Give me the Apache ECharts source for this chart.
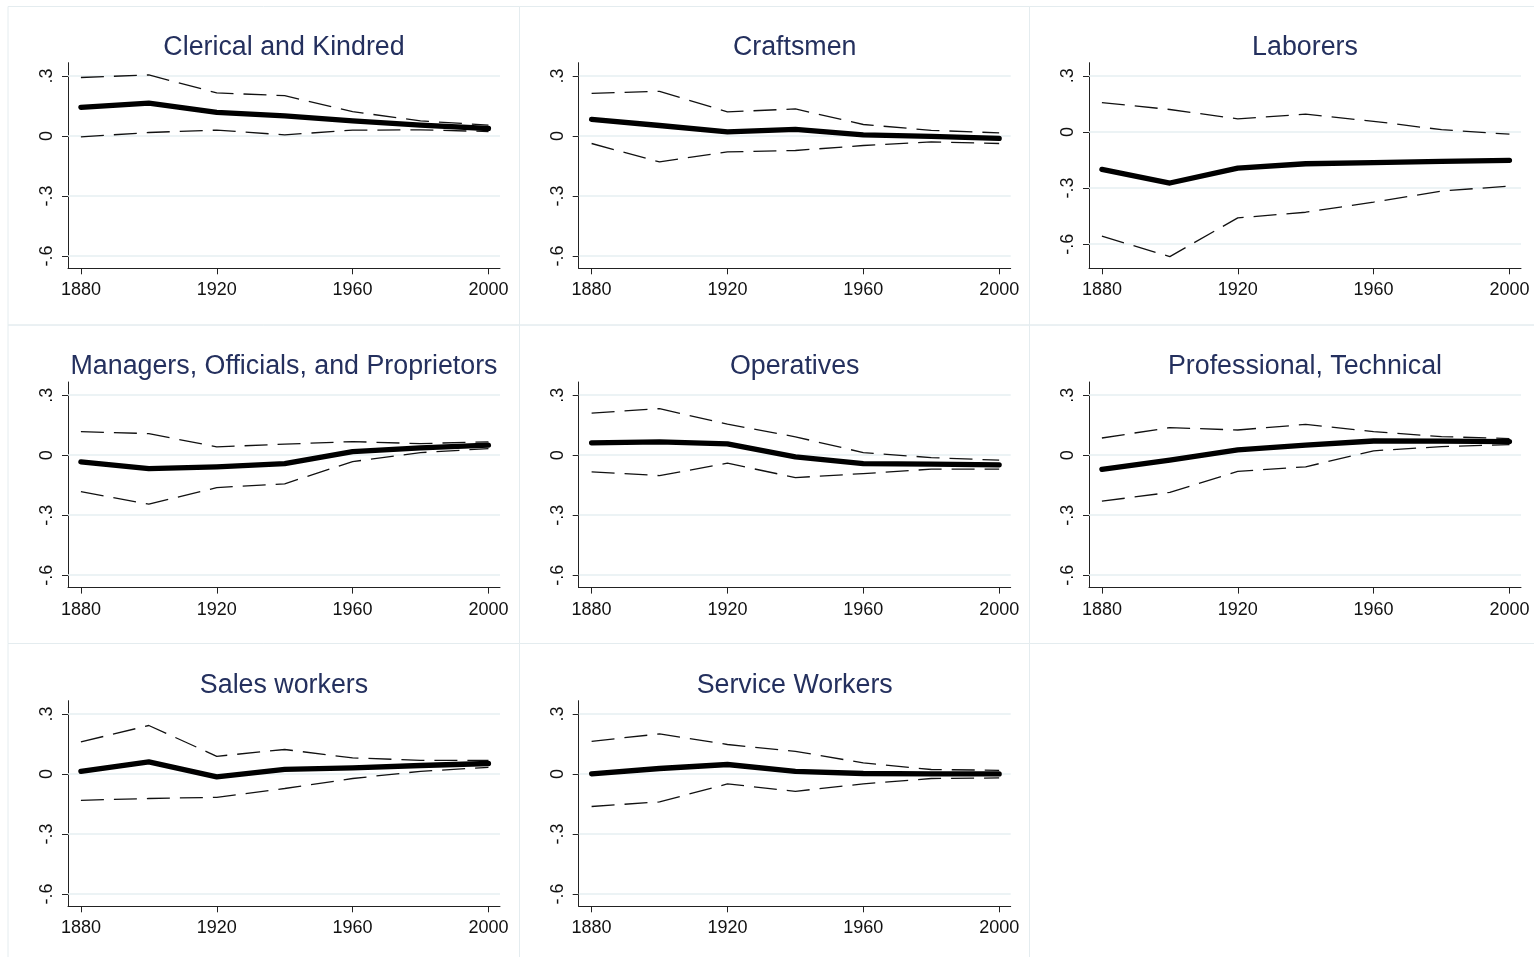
<!DOCTYPE html>
<html>
<head>
<meta charset="utf-8">
<script src="https://cdn.jsdelivr.net/npm/echarts@6/dist/echarts.min.js"></script>
<style>
  html, body { margin: 0; padding: 0; background: #ffffff; }
  #chart { width: 1534px; height: 957px; }
</style>
</head>
<body>
<div id="chart"></div>
<script>
// Census years shared by every panel
const years = [1880, 1900, 1920, 1940, 1960, 1980, 2000];

// Axis ticks
const xTickValues = [1880, 1920, 1960, 2000];
const yTickValues = [-0.6, -0.3, 0, 0.3];
const yTickLabels = ['-.6', '-.3', '0', '.3'];

// Panel titles (occupation groups)
const panelTitles = [
  'Clerical and Kindred', 'Craftsmen', 'Laborers',
  'Managers, Officials, and Proprietors', 'Operatives', 'Professional, Technical',
  'Sales workers', 'Service Workers'
];

// Point estimates and confidence bounds per occupation group
const clericalEst = [0.143, 0.164, 0.118, 0.100, 0.075, 0.054, 0.037];
const clericalHi  = [0.292, 0.305, 0.215, 0.201, 0.121, 0.075, 0.054];
const clericalLo  = [-0.005, 0.017, 0.029, 0.005, 0.029, 0.030, 0.022];

const craftEst = [0.083, 0.052, 0.020, 0.033, 0.005, -0.002, -0.012];
const craftHi  = [0.213, 0.223, 0.120, 0.135, 0.057, 0.028, 0.015];
const craftLo  = [-0.038, -0.130, -0.080, -0.073, -0.048, -0.030, -0.038];

const laborEst = [-0.200, -0.273, -0.193, -0.170, -0.164, -0.157, -0.152];
const laborHi  = [0.157, 0.120, 0.070, 0.095, 0.057, 0.012, -0.012];
const laborLo  = [-0.557, -0.666, -0.459, -0.429, -0.375, -0.316, -0.289];

const managerEst = [-0.033, -0.067, -0.058, -0.042, 0.018, 0.037, 0.050];
const managerHi  = [0.118, 0.108, 0.042, 0.055, 0.068, 0.058, 0.067];
const managerLo  = [-0.182, -0.245, -0.162, -0.143, -0.032, 0.013, 0.033];

const operEst = [0.062, 0.067, 0.057, -0.008, -0.042, -0.045, -0.048];
const operHi  = [0.210, 0.233, 0.155, 0.092, 0.013, -0.012, -0.025];
const operLo  = [-0.083, -0.102, -0.040, -0.112, -0.092, -0.070, -0.070];

const profEst = [-0.071, -0.025, 0.027, 0.050, 0.071, 0.070, 0.068];
const profHi  = [0.086, 0.138, 0.126, 0.154, 0.118, 0.093, 0.083];
const profLo  = [-0.230, -0.186, -0.081, -0.058, 0.022, 0.043, 0.053];

const salesEst = [0.013, 0.060, -0.015, 0.023, 0.030, 0.042, 0.052];
const salesHi  = [0.160, 0.242, 0.088, 0.122, 0.080, 0.068, 0.068];
const salesLo  = [-0.132, -0.123, -0.117, -0.073, -0.023, 0.013, 0.033];

const serviceEst = [0.000, 0.027, 0.047, 0.013, 0.002, 0.000, 0.000];
const serviceHi  = [0.163, 0.200, 0.147, 0.113, 0.055, 0.022, 0.018];
const serviceLo  = [-0.163, -0.140, -0.050, -0.087, -0.050, -0.023, -0.020];

const panelSeries = [
  [clericalEst, clericalHi, clericalLo],
  [craftEst, craftHi, craftLo],
  [laborEst, laborHi, laborLo],
  [managerEst, managerHi, managerLo],
  [operEst, operHi, operLo],
  [profEst, profHi, profLo],
  [salesEst, salesHi, salesLo],
  [serviceEst, serviceHi, serviceLo]
];

// Layout of the 3x3 panel grid (pixels)
const colLeft = [68, 578.7, 1089];
const rowTop = [62.7, 382, 700.7];
const plotW = 432;
const plotH = 205.6;
const boxLeft = [8, 519.5, 1029.5];
const boxTop = [6.5, 325, 643.5];
const boxW = [511.5, 510, 520];
const boxH = 318.5;

const FONT = '"Liberation Sans", Arial, Helvetica, sans-serif';
const TITLE_COLOR = '#24305e';

const toPairs = vals => years.map((y, i) => [y, vals[i]]);

const grids = [], xAxes = [], yAxes = [], series = [], titles = [], graphics = [];

panelTitles.forEach((name, p) => {
  const r = Math.floor(p / 3), c = p % 3;
  const yRange = p === 2 ? [-0.7286, 0.370] : [-0.662, 0.366];

  graphics.push({
    type: 'rect', silent: true, z: -10,
    shape: { x: boxLeft[c], y: boxTop[r], width: boxW[c], height: boxH },
    style: { fill: 'none', stroke: '#e4ecef', lineWidth: 1 }
  });

  grids.push({ left: colLeft[c], top: rowTop[r], width: plotW, height: plotH, containLabel: false });

  titles.push({
    text: name,
    left: colLeft[c] + plotW / 2,
    top: rowTop[r] - 15.5,
    padding: 0,
    textAlign: 'center',
    textVerticalAlign: 'middle',
    textStyle: { fontFamily: FONT, fontSize: 26.8, fontWeight: 'normal', color: TITLE_COLOR }
  });

  xAxes.push({
    type: 'value', gridIndex: p, min: 1876.2, max: 2003.4,
    axisLine: { show: true, onZero: false, lineStyle: { color: '#222', width: 1 } },
    axisTick: { show: true, length: 6, customValues: xTickValues, lineStyle: { color: '#222' } },
    axisLabel: {
      customValues: xTickValues, margin: 13, color: '#111', fontFamily: FONT, fontSize: 18,
      formatter: v => String(Math.round(v))
    },
    splitLine: { show: false }
  });

  yAxes.push({
    type: 'value', gridIndex: p, min: yRange[0], max: yRange[1],
    axisLine: { show: true, onZero: false, lineStyle: { color: '#222', width: 1 } },
    axisTick: { show: true, length: 6, customValues: yTickValues, lineStyle: { color: '#222' } },
    axisLabel: {
      customValues: yTickValues, rotate: 90, margin: 12, color: '#111',
      fontFamily: FONT, fontSize: 18,
      formatter: v => {
        const k = yTickValues.findIndex(t => Math.abs(t - v) < 1e-9);
        return k >= 0 ? yTickLabels[k] : '';
      }
    },
    splitLine: { show: false }
  });

  const [est, hi, lo] = panelSeries[p];
  const dashed = { color: '#111', width: 1.3, type: [23, 10] };

  series.push({
    type: 'line', xAxisIndex: p, yAxisIndex: p, data: toPairs(hi),
    showSymbol: false, symbol: 'none', silent: true, z: 2, lineStyle: dashed,
    markLine: {
      silent: true, symbol: 'none', z: 1, label: { show: false },
      lineStyle: { color: '#e6eff2', width: 1.5, type: 'solid' },
      data: yTickValues.map(v => ({ yAxis: v }))
    }
  });
  series.push({
    type: 'line', xAxisIndex: p, yAxisIndex: p, data: toPairs(lo),
    showSymbol: false, symbol: 'none', silent: true, z: 2, lineStyle: dashed
  });
  series.push({
    type: 'line', xAxisIndex: p, yAxisIndex: p, data: toPairs(est),
    showSymbol: false, symbol: 'none', silent: true, z: 3,
    lineStyle: { color: '#000', width: 5.3, cap: 'round', join: 'round' }
  });
});

const chart = echarts.init(document.getElementById('chart'), null, { renderer: 'canvas' });
chart.setOption({
  backgroundColor: '#ffffff',
  animation: false,
  title: titles,
  grid: grids,
  xAxis: xAxes,
  yAxis: yAxes,
  series: series,
  graphic: graphics
});
</script>
</body>
</html>
